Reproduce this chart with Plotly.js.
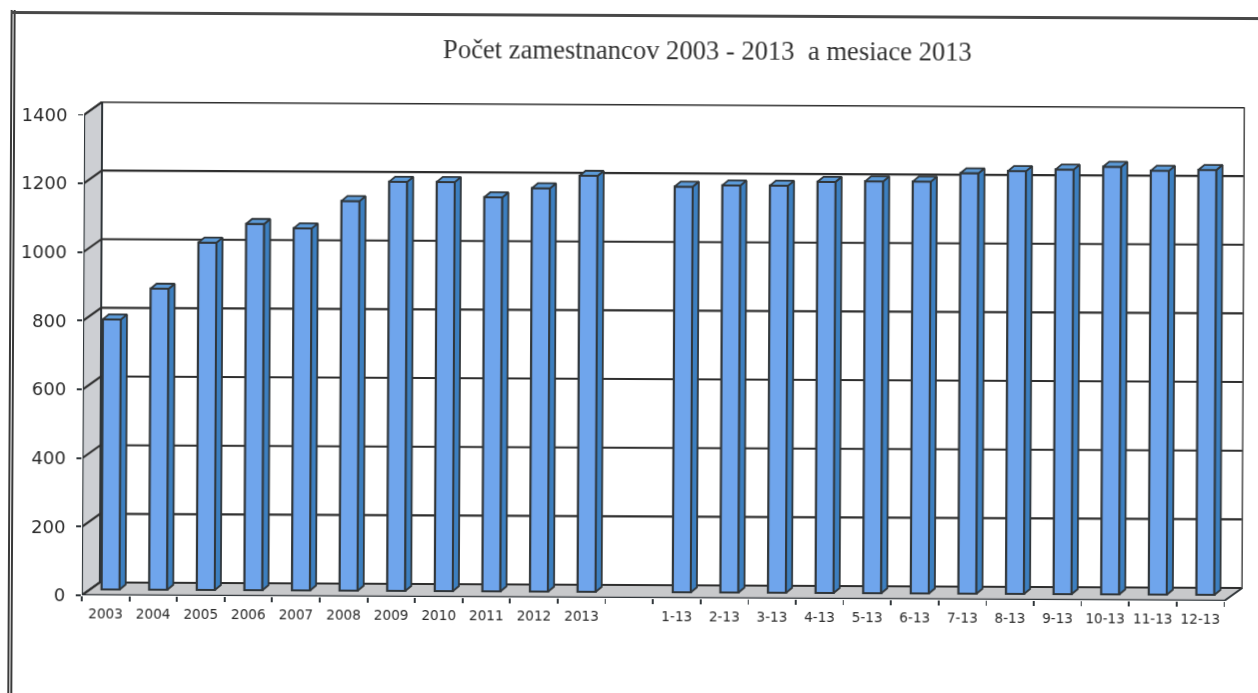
<!DOCTYPE html>
<html><head><meta charset="utf-8">
<script src="https://cdn.plot.ly/plotly-3.0.1.min.js"></script>
<style>
html,body{margin:0;padding:0;background:#fff;overflow:hidden;width:1258px;height:693px}
#frame{position:absolute;left:0;top:0;width:1258px;height:693px;transform:rotate(0.28deg);transform-origin:629px 346px;filter:blur(0.45px)}
#chart{position:absolute;left:0;top:0;width:1258px;height:693px}
#ln{position:absolute;left:9px;top:13px;width:5px;height:720px;border-left:5px double #3a3a3a;box-sizing:border-box}
#tn{position:absolute;left:9px;top:14px;width:1280px;height:3px;background:#484848}
</style></head><body>
<div id="frame"><div id="chart"></div><div id="ln"></div><div id="tn"></div></div>
<script>
const categories = ['2003','2004','2005','2006','2007','2008','2009','2010','2011','2012','2013','',
  '1-13','2-13','3-13','4-13','5-13','6-13','7-13','8-13','9-13','10-13','11-13','12-13'];
const values = [787,877,1012,1067,1055,1135,1192,1192,1148,1175,1212,null,
  1182,1186,1186,1198,1200,1200,1225,1232,1237,1246,1235,1238];
const yTicks = [0,200,400,600,800,1000,1200,1400];
const titleText = 'Počet zamestnancov 2003 - 2013  a mesiace 2013';

const L=83, R=1244, B=598.5, T=104, W=1258, H=693;
const pxX=47.6, pxY=0.3436;
const xr=[-0.5,-0.5+(R-L)/pxX], yr=[0,(B-T)/pxY];
const wallX=18/pxX, wallY=13/pxY, endX=23.5;
const fX=5/pxX, fY=6/pxY, bX=11/pxX, bY=11/pxY, hw=0.19;

const xs=categories.map((_,i)=>i);
const dark='#30363a';

const wall={type:'scatter',mode:'lines',x:[-0.5,-0.5,-0.5+wallX,-0.5+wallX,-0.5],y:[0,1400,1400+wallY,wallY,0],
  fill:'toself',fillcolor:'#cdcfd3',line:{color:dark,width:2},hoverinfo:'skip',showlegend:false};
const floor={type:'scatter',mode:'lines',x:[-0.5,endX,endX+wallX,-0.5+wallX,-0.5],y:[0,0,wallY,wallY,0],
  fill:'toself',fillcolor:'#c8c9cb',line:{color:dark,width:2},hoverinfo:'skip',showlegend:false};
const gx=[],gy=[];
yTicks.forEach(v=>{gx.push(-0.5,-0.5+wallX,endX+wallX,null);gy.push(v,v+wallY,v+wallY,null);});
const grid={type:'scatter',mode:'lines',x:gx,y:gy,line:{color:'#2e2e2e',width:2.1},hoverinfo:'skip',showlegend:false};
const rightEdge={type:'scatter',mode:'lines',x:[endX+wallX,endX+wallX],y:[wallY,1400+wallY],line:{color:'#555',width:2},hoverinfo:'skip',showlegend:false};
const axisY={type:'scatter',mode:'lines',x:[-0.5,-0.5],y:[0,1400],line:{color:dark,width:2.2},hoverinfo:'skip',showlegend:false};
const axisX={type:'scatter',mode:'lines',x:[-0.5,endX],y:[0,0],line:{color:dark,width:2.4},hoverinfo:'skip',showlegend:false};

const bars={type:'bar',xaxis:'x2',yaxis:'y2',x:xs.map(i=>i+fX),y:values,base:fY,width:hw*2,
  marker:{color:'#6fa5ec',line:{color:dark,width:2.2}},hoverinfo:'x+y',showlegend:false};
const sx=[],sy=[],tx=[],ty=[];
values.forEach((v,i)=>{
  if(v===null)return;
  const a=i+fX-hw,b=i+fX+hw,t=v+fY;
  sx.push(b,b,i+bX+hw,i+bX+hw,b,null);sy.push(fY,t,v+bY,bY,fY,null);
  tx.push(a,b,i+bX+hw,i+bX-hw,a,null);ty.push(t,t,v+bY,v+bY,t,null);
});
const side={type:'scatter',mode:'lines',xaxis:'x2',yaxis:'y2',x:sx,y:sy,fill:'toself',fillcolor:'#3c7fc0',
  line:{color:dark,width:1.8},hoverinfo:'skip',showlegend:false};
const top_={type:'scatter',mode:'lines',xaxis:'x2',yaxis:'y2',x:tx,y:ty,fill:'toself',fillcolor:'#5b9ad8',
  line:{color:dark,width:1.8},hoverinfo:'skip',showlegend:false};

const boundaries=xs.map(i=>i-0.5).concat([endX]);
const layout={
  width:W,height:H,paper_bgcolor:'#fff',plot_bgcolor:'rgba(0,0,0,0)',showlegend:false,
  margin:{l:L,r:W-R,t:T,b:H-B,pad:0},
  title:{text:titleText,font:{family:'Liberation Serif',size:26.6,color:'#333'},x:706/W,xanchor:'center',y:1-50/H,yanchor:'middle'},
  xaxis:{range:xr,tickvals:boundaries,ticktext:boundaries.map(()=>''),ticks:'outside',ticklen:5,tickwidth:1.8,tickcolor:dark,
    showgrid:false,zeroline:false,showline:false,fixedrange:true},
  xaxis2:{range:xr,overlaying:'x',anchor:'y2',side:'bottom',tickvals:xs,ticktext:categories,ticks:'outside',ticklen:6,tickcolor:'rgba(0,0,0,0)',
    tickfont:{family:'DejaVu Sans',size:13.6,color:'#2a2a2a'},tickangle:0,showgrid:false,zeroline:false,showline:false,fixedrange:true},
  yaxis:{range:yr,tickvals:yTicks,ticktext:yTicks.map(String),ticks:'outside',ticklen:5,tickwidth:1.8,tickcolor:dark,ticklabelstandoff:7,
    tickfont:{family:'DejaVu Sans',size:18,color:'#2a2a2a'},showgrid:false,zeroline:false,showline:false,fixedrange:true},
  yaxis2:{range:yr,overlaying:'y',anchor:'x2',visible:false,fixedrange:true}
};
Plotly.newPlot('chart',[wall,floor,grid,rightEdge,axisY,axisX,bars,side,top_],layout,{displayModeBar:false,staticPlot:true});
</script></body></html>
